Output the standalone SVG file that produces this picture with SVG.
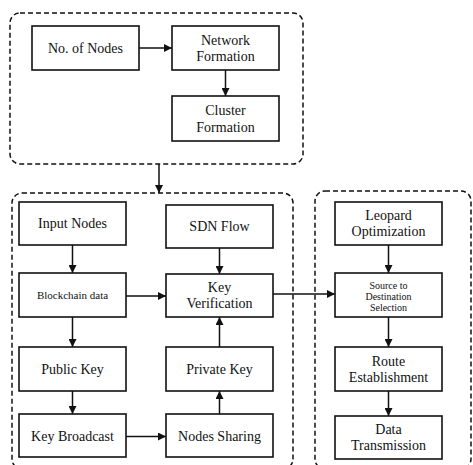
<svg xmlns="http://www.w3.org/2000/svg" width="473" height="465" viewBox="0 0 473 465">
  <style>
    .group { fill: none; stroke: #111; stroke-width: 1.5; stroke-dasharray: 5 3; }
    .box { fill: #fff; stroke: #111; stroke-width: 1.6; }
    .lbl { font-family: "Liberation Serif", "DejaVu Serif", serif; font-size: 14px; fill: #111; text-anchor: middle; }
    .sm { font-size: 11px; }
    .xs { font-size: 10px; }
    .edge { fill: none; stroke: #111; stroke-width: 1.5; marker-end: url(#arrow); }
  </style>
  <defs>
    <marker id="arrow" viewBox="0 0 8 8" refX="8" refY="4" markerWidth="8" markerHeight="8" markerUnits="userSpaceOnUse" orient="auto">
      <path d="M0,0 L8,4 L0,8 Z" fill="#111"/>
    </marker>
  </defs>
  <rect width="473" height="465" fill="#fff"/>

  <!-- stage containers -->
  <g id="stages">
    <rect class="group" x="10" y="13" width="293" height="151" rx="10"/>
    <rect class="group" x="12" y="193" width="281" height="276" rx="10"/>
    <rect class="group" x="315" y="191" width="156" height="278" rx="10"/>
  </g>

  <g id="connectors">
    <line class="edge" x1="139" y1="48" x2="172" y2="48"/>
    <line class="edge" x1="225.5" y1="70" x2="225.5" y2="96"/>
    <line class="edge" x1="159" y1="164" x2="159" y2="193"/>
    <line class="edge" x1="72.5" y1="245" x2="72.5" y2="273"/>
    <line class="edge" x1="219.5" y1="248" x2="219.5" y2="274"/>
    <line class="edge" x1="126" y1="296" x2="166" y2="296"/>
    <line class="edge" x1="72.5" y1="317" x2="72.5" y2="347"/>
    <line class="edge" x1="72.5" y1="391" x2="72.5" y2="414"/>
    <line class="edge" x1="126" y1="436.5" x2="166" y2="436.5"/>
    <line class="edge" x1="219.5" y1="414" x2="219.5" y2="391"/>
    <line class="edge" x1="219.5" y1="347" x2="219.5" y2="317"/>
    <line class="edge" x1="273" y1="294" x2="335" y2="294"/>
    <line class="edge" x1="388.5" y1="245" x2="388.5" y2="273"/>
    <line class="edge" x1="388.5" y1="317" x2="388.5" y2="347"/>
    <line class="edge" x1="388.5" y1="391" x2="388.5" y2="416"/>
  </g>

  <g id="no-of-nodes">
    <rect class="box" x="32" y="26" width="107" height="44"/>
    <text class="lbl" x="85.5" y="53">No. of Nodes</text>
  </g>
  <g id="network-formation">
    <rect class="box" x="172" y="26" width="107" height="44"/>
    <text class="lbl" x="225.5" y="45">Network</text>
    <text class="lbl" x="225.5" y="61">Formation</text>
  </g>
  <g id="cluster-formation">
    <rect class="box" x="172" y="96" width="107" height="45"/>
    <text class="lbl" x="225.5" y="115">Cluster</text>
    <text class="lbl" x="225.5" y="132">Formation</text>
  </g>

  <g id="input-nodes">
    <rect class="box" x="19" y="202" width="107" height="43"/>
    <text class="lbl" x="72.5" y="228">Input Nodes</text>
  </g>
  <g id="sdn-flow">
    <rect class="box" x="166" y="205" width="107" height="43"/>
    <text class="lbl" x="219.5" y="231">SDN Flow</text>
  </g>
  <g id="blockchain-data">
    <rect class="box" x="19" y="273" width="107" height="44"/>
    <text class="lbl sm" x="72.5" y="299">Blockchain data</text>
  </g>
  <g id="key-verification">
    <rect class="box" x="166" y="274" width="107" height="43"/>
    <text class="lbl" x="219.5" y="292">Key</text>
    <text class="lbl" x="219.5" y="308">Verification</text>
  </g>
  <g id="public-key">
    <rect class="box" x="19" y="347" width="107" height="44"/>
    <text class="lbl" x="72.5" y="374">Public Key</text>
  </g>
  <g id="private-key">
    <rect class="box" x="166" y="347" width="107" height="44"/>
    <text class="lbl" x="219.5" y="374">Private Key</text>
  </g>
  <g id="key-broadcast">
    <rect class="box" x="19" y="414" width="107" height="43"/>
    <text class="lbl" x="72.5" y="441">Key Broadcast</text>
  </g>
  <g id="nodes-sharing">
    <rect class="box" x="166" y="414" width="107" height="43"/>
    <text class="lbl" x="219.5" y="441">Nodes Sharing</text>
  </g>

  <g id="leopard-optimization">
    <rect class="box" x="335" y="202" width="107" height="43"/>
    <text class="lbl" x="388.5" y="220">Leopard</text>
    <text class="lbl" x="388.5" y="236">Optimization</text>
  </g>
  <g id="source-destination-selection">
    <rect class="box" x="335" y="273" width="107" height="44"/>
    <text class="lbl xs" x="388.5" y="289">Source to</text>
    <text class="lbl xs" x="388.5" y="300">Destination</text>
    <text class="lbl xs" x="388.5" y="311">Selection</text>
  </g>
  <g id="route-establishment">
    <rect class="box" x="335" y="347" width="107" height="44"/>
    <text class="lbl" x="388.5" y="366">Route</text>
    <text class="lbl" x="388.5" y="382">Establishment</text>
  </g>
  <g id="data-transmission">
    <rect class="box" x="335" y="416" width="107" height="43"/>
    <text class="lbl" x="388.5" y="434">Data</text>
    <text class="lbl" x="388.5" y="450">Transmission</text>
  </g>
</svg>
